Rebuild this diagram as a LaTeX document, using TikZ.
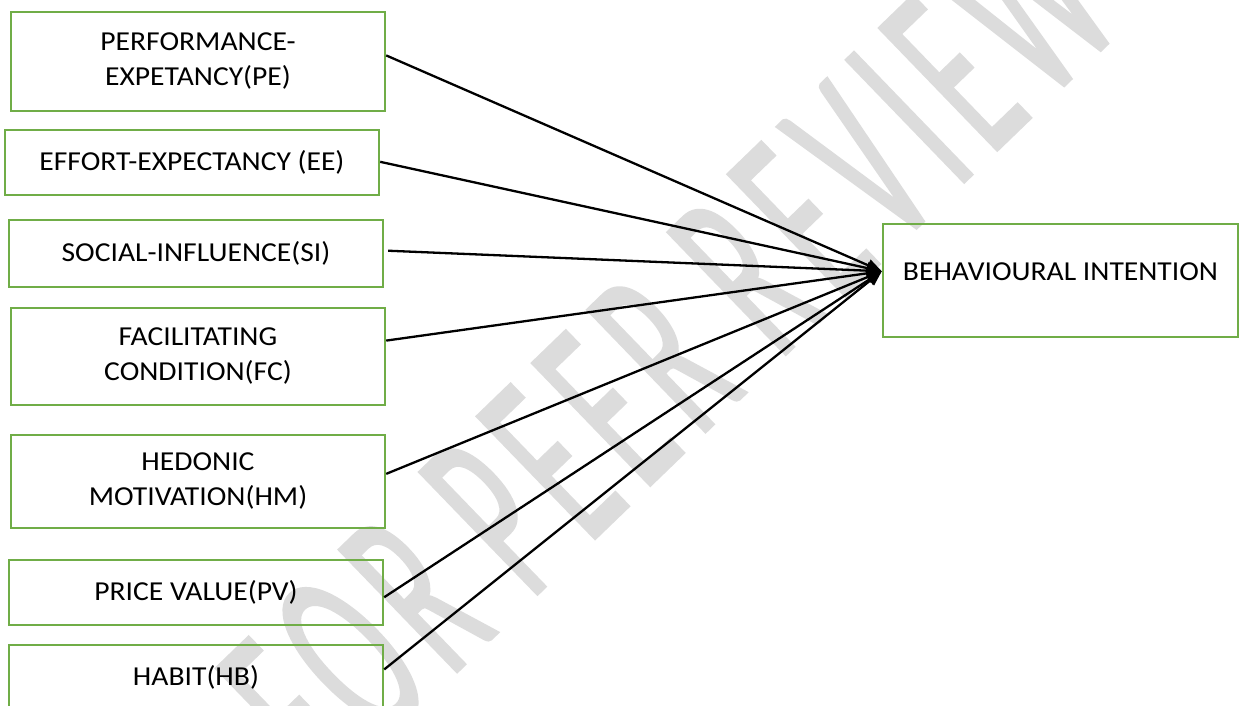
\documentclass[tikz,border=0pt]{standalone}
\usepackage{fontspec}
\setmainfont{Carlito}
\newfontfamily\boxfont{Carlito}[FakeStretch=1.08]
\newfontfamily\wmfont{Carlito}[FakeStretch=0.47,FakeBold=1,LetterSpace=6]
\usetikzlibrary{arrows.meta,calc}
\definecolor{boxgreen}{RGB}{112,173,71}
\definecolor{wmgray}{RGB}{220,220,220}
\tikzset{
  factor/.style={draw=boxgreen, line width=2.4pt, fill=none, align=center,
    font=\boxfont\fontsize{27.4}{35}\selectfont, inner sep=0pt, minimum width=374pt},
  btext/.style={font=\boxfont\fontsize{27.4}{35}\selectfont, inner sep=0pt},
  link/.style={line width=2.3pt, draw=black, -{Triangle[length=15pt,width=12pt]}},
  wm/.style={text=wmgray, font=\wmfont\fontsize{265}{265}\selectfont, rotate=44, inner sep=0pt}
}
\begin{document}
\begin{tikzpicture}[x=1pt,y=-1pt]
\useasboundingbox (0,0) rectangle (1239,706);
\fill[white] (0,0) rectangle (1239,706);
\node[wm] (wmark) at (668,350) {FOR PEER REVIEW};
\node[factor, minimum height=99pt] (pe) at (198,61.5) {PERFORMANCE-\\EXPETANCY(PE)};
\node[factor, minimum height=65pt] (ee) at (192,162.5) {EFFORT-EXPECTANCY (EE)};
\node[factor, minimum height=67pt] (si) at (196,253.5) {SOCIAL-INFLUENCE(SI)};
\node[factor, minimum height=97pt] (fc) at (198,356.5) {FACILITATING\\CONDITION(FC)};
\node[factor, minimum height=93pt] (hm) at (198,481.5) {HEDONIC\\MOTIVATION(HM)};
\node[factor, minimum height=65pt] (pv) at (196,592.5) {PRICE VALUE(PV)};
\node[factor, minimum height=65pt] (hb) at (196,677.5) {HABIT(HB)};
\node[factor, minimum width=355pt, minimum height=113pt] (bi) at (1060.5,280.5) {};
\node[btext] (bitext) at (1060.5,272) {BEHAVIOURAL INTENTION};
\coordinate (tip) at ($(bi.north west)!0.42!(bi.south west)$);
\draw[link] ($(pe.north east)!0.44!(pe.south east)$) -- (tip);
\draw[link] ($(ee.north east)!0.49!(ee.south east)$) -- (tip);
\draw[link] ($(si.north east)!0.46!(si.south east)+(4,0)$) -- (tip);
\draw[link] ($(fc.north east)!0.34!(fc.south east)$) -- (tip);
\draw[link] ($(hm.north east)!0.42!(hm.south east)$) -- (tip);
\draw[link] ($(pv.north east)!0.57!(pv.south east)$) -- (tip);
\draw[link] ($(hb.north east)!0.38!(hb.south east)$) -- (tip);
\end{tikzpicture}
\end{document}
